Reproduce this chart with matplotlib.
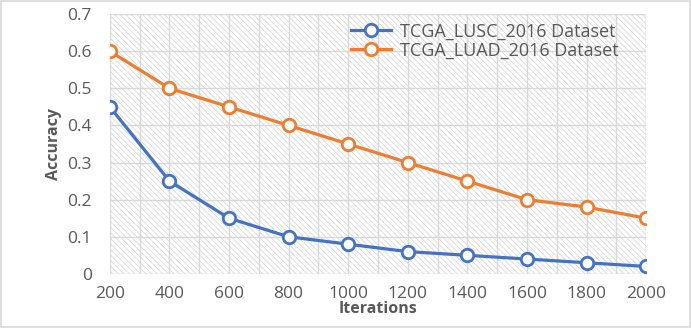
import matplotlib
matplotlib.use('Agg')
import matplotlib.pyplot as plt
from matplotlib.patches import Rectangle
from matplotlib.ticker import MultipleLocator

iterations = [200, 400, 600, 800, 1000, 1200, 1400, 1600, 1800, 2000]
lusc_acc = [0.45, 0.25, 0.15, 0.10, 0.08, 0.06, 0.05, 0.04, 0.03, 0.02]
luad_acc = [0.60, 0.50, 0.45, 0.40, 0.35, 0.30, 0.25, 0.20, 0.18, 0.15]
y_ticks = [0, 0.1, 0.2, 0.3, 0.4, 0.5, 0.6, 0.7]
y_tick_labels = ['0', '0.1', '0.2', '0.3', '0.4', '0.5', '0.6', '0.7']

plt.rcParams['font.family'] = ['Open Sans', 'DejaVu Sans']
plt.rcParams['hatch.linewidth'] = 0.5

text_color = '#595959'
grid_color = '#d9d9d9'

fig = plt.figure(figsize=(6.91, 3.28), dpi=100)
ax = fig.add_axes([0.159, 0.165, 0.776, 0.792])

# hatched plot area (Excel pattern fill)
ax.add_patch(Rectangle((0, 0), 1, 1, transform=ax.transAxes, facecolor='white',
                       edgecolor='#d2d2d2', hatch='\\\\\\\\\\\\', linewidth=0, zorder=0))

ax.plot(iterations, lusc_acc, color='#4472C4', linewidth=2.3, marker='o', markersize=9,
        markerfacecolor='white', markeredgewidth=2, label='TCGA_LUSC_2016 Dataset', zorder=3)
ax.plot(iterations, luad_acc, color='#ED7D31', linewidth=2.3, marker='o', markersize=9,
        markerfacecolor='white', markeredgewidth=2, label='TCGA_LUAD_2016 Dataset', zorder=3)

ax.set_xlim(200, 2000)
ax.set_ylim(0, 0.7)
ax.set_xticks(iterations)
ax.xaxis.set_minor_locator(MultipleLocator(100))
ax.set_yticks(y_ticks)
ax.set_yticklabels(y_tick_labels)
ax.grid(True, which='both', axis='x', color=grid_color, linewidth=1.0, zorder=1)
ax.grid(True, which='major', axis='y', color=grid_color, linewidth=1.0, zorder=1)
ax.set_axisbelow(True)

ax.tick_params(which='both', length=0, colors=text_color, labelsize=12.5)
ax.tick_params(axis='x', pad=9)
ax.tick_params(axis='y', pad=13)
for spine in ax.spines.values():
    spine.set_visible(False)

ax.set_xlabel('Iterations', color=text_color, fontsize=11.5, fontweight='bold', labelpad=-1)
ax.set_ylabel('Accuracy', color=text_color, fontsize=11.5, fontweight='bold', labelpad=4)

leg = ax.legend(loc='upper left', bbox_to_anchor=(0.437, 0.995), frameon=False, fontsize=13,
                handlelength=2.2, handletextpad=0.5, labelspacing=0.05, borderaxespad=0)
for t in leg.get_texts():
    t.set_color(text_color)

# light figure border
fig.patches.append(Rectangle((0.002, 0.003), 0.996, 0.994, transform=fig.transFigure,
                             fill=False, edgecolor='#d9d9d9', linewidth=1.2))

fig.savefig('out.png', dpi=100, facecolor='white')
